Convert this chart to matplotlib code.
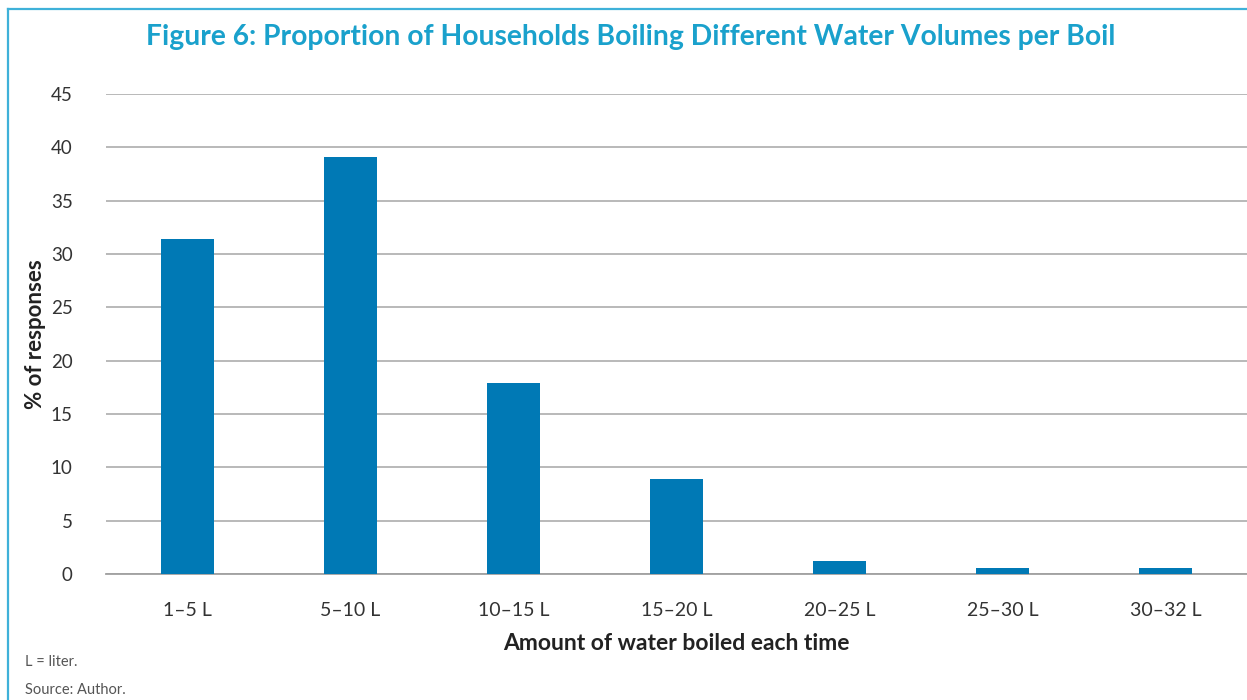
import matplotlib
matplotlib.use("Agg")
import matplotlib.pyplot as plt
from matplotlib.lines import Line2D

categories = ["1–5 L", "5–10 L", "10–15 L", "15–20 L", "20–25 L", "25–30 L", "30–32 L"]
percent_responses = [31.4, 39.1, 17.9, 8.9, 1.2, 0.6, 0.6]
y_ticks = [0, 5, 10, 15, 20, 25, 30, 35, 40, 45]

plt.rcParams["font.family"] = ["Lato", "DejaVu Sans"]

W, H = 1247, 700
fig = plt.figure(figsize=(W / 100, H / 100), dpi=100)
ax = fig.add_axes([106 / W, 1 - 574 / H, 1 - 106 / W, (574 - 94) / H])

bar_color = "#0079b5"
ax.bar(range(len(categories)), percent_responses, width=0.32, color=bar_color, zorder=3)

ax.set_xlim(-0.5, len(categories) - 0.5)
ax.set_ylim(0, 45)
ax.set_yticks(y_ticks)
ax.set_yticklabels([str(v) for v in y_ticks], fontsize=13.5, color="#333333")
ax.set_xticks(range(len(categories)))
ax.set_xticklabels(categories, fontsize=14, color="#333333")
ax.tick_params(axis="y", length=0, pad=24)
ax.tick_params(axis="x", length=0, pad=20)

ax.grid(axis="y", color="#a6a6a6", linewidth=1.1, zorder=0)
ax.set_axisbelow(True)
for side in ["top", "right", "left"]:
    ax.spines[side].set_visible(False)
ax.spines["bottom"].set_color("#a0a0a0")
ax.spines["bottom"].set_linewidth(1.3)

ax.set_xlabel("Amount of water boiled each time", fontsize=16.5, fontweight="bold",
              color="#222222", labelpad=10)
fig.text(36 / W, 1 - 334 / H, "% of responses", rotation=90, ha="center", va="center",
         fontsize=16, fontweight="bold", color="#222222")

fig.text(631 / W, 1 - 37 / H,
         "Figure 6: Proportion of Households Boiling Different Water Volumes per Boil",
         ha="center", va="center", fontsize=20.3, fontweight="bold", color="#1aa1cc")

fig.text(25 / W, 1 - 662 / H, "L = liter.", ha="left", va="center",
         fontsize=10.5, color="#555555")
fig.text(25 / W, 1 - 690 / H, "Source: Author.", ha="left", va="center",
         fontsize=10.5, color="#555555")

border_color = "#3fb1d9"
fig.add_artist(Line2D([8 / W, 1.0], [1 - 9 / H, 1 - 9 / H], transform=fig.transFigure,
                      color=border_color, linewidth=1.6))
fig.add_artist(Line2D([8 / W, 8 / W], [1 - 9 / H, 0.0], transform=fig.transFigure,
                      color=border_color, linewidth=1.6))

fig.savefig("out.png", dpi=100, facecolor="white")
